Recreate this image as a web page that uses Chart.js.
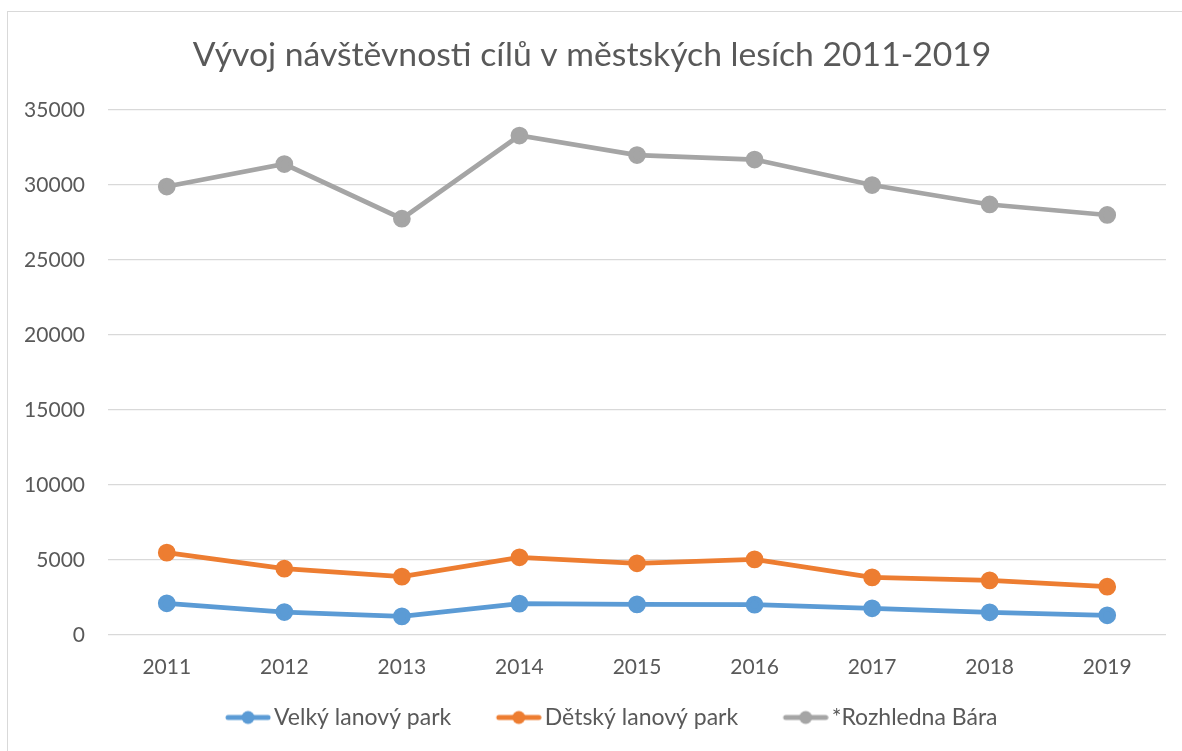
<!DOCTYPE html>
<html lang="cs">
<head>
    <meta charset="UTF-8">
    <title>Vývoj návštěvnosti cílů v městských lesích 2011-2019</title>
    <script src="https://cdn.jsdelivr.net/npm/chart.js"></script>
    <style>
        body {
            margin: 0;
            padding: 0;
            background: white;
            overflow: hidden;
        }

        .frame {
            position: absolute;
            left: 7px;
            top: 11px;
            width: 1300px;
            height: 900px;
            border: 1px solid #d9d9d9;
        }

        .chart-container {
            position: absolute;
            left: 0;
            top: 0;
            width: 1182px;
            height: 751px;
        }
    </style>
</head>
<body>

    <div class="frame"></div>
    <div class="chart-container">
        <canvas id="visitChart"></canvas>
    </div>

    <script>
        const years = ['2011', '2012', '2013', '2014', '2015', '2016', '2017', '2018', '2019'];
        const seriesNames = ['Velký lanový park', 'Dětský lanový park', '*Rozhledna Bára'];

        const velkyPark = [2100, 1520, 1230, 2080, 2030, 2010, 1770, 1500, 1300];
        const detskyPark = [5480, 4410, 3880, 5170, 4770, 5030, 3830, 3630, 3210];
        const rozhledna = [29900, 31400, 27750, 33300, 32000, 31700, 30000, 28700, 28000];

        const colors = ['#5b9bd5', '#ed7d31', '#a5a5a5'];
        const textColor = '#595959';
        const fontFamily = 'Lato, "Open Sans", sans-serif';

        // legend marker: line + dot, drawn on the right part of a wider transparent image
        // so the gap to the text is small like in Excel
        function legendMarker(color) {
            const c = document.createElement('canvas');
            c.width = 93;
            c.height = 16;
            const g = c.getContext('2d');
            const x0 = c.width - 46;
            g.strokeStyle = color;
            g.lineWidth = 5;
            g.lineCap = 'round';
            g.beginPath();
            g.moveTo(x0 + 3, 8);
            g.lineTo(c.width - 3, 8);
            g.stroke();
            g.fillStyle = color;
            g.beginPath();
            g.arc(x0 + 23, 8, 6.5, 0, Math.PI * 2);
            g.fill();
            return c;
        }

        const allSeries = [velkyPark, detskyPark, rozhledna];
        const datasets = allSeries.map((values, i) => ({
            label: seriesNames[i],
            data: values,
            borderColor: colors[i],
            backgroundColor: colors[i],
            pointBackgroundColor: colors[i],
            pointBorderColor: colors[i],
            borderWidth: 4.75,
            pointRadius: 6.5,
            pointHoverRadius: 6.5,
            tension: 0
        }));

        new Chart(document.getElementById('visitChart'), {
            type: 'line',
            data: { labels: years, datasets: datasets },
            options: {
                responsive: true,
                maintainAspectRatio: false,
                animation: false,
                layout: { padding: { top: 28, right: 16, bottom: 12, left: 18 } },
                scales: {
                    x: {
                        offset: true,
                        grid: { display: false, drawTicks: false },
                        border: { display: false },
                        ticks: { color: textColor, padding: 20, font: { family: fontFamily, size: 21 } }
                    },
                    y: {
                        min: 0,
                        max: 35000,
                        grid: { color: '#d9d9d9', lineWidth: 1.2, drawTicks: false },
                        border: { display: false },
                        ticks: {
                            stepSize: 5000,
                            color: textColor,
                            padding: 23,
                            font: { family: fontFamily, size: 21 },
                            callback: (value) => String(value)
                        },
                        afterFit: (scale) => { scale.width = 90; }
                    }
                },
                plugins: {
                    title: {
                        display: true,
                        text: 'Vývoj návštěvnosti cílů v městských lesích 2011-2019',
                        color: textColor,
                        font: { family: fontFamily, size: 33.7, weight: 'normal' },
                        padding: { top: 7, bottom: 34.6 }
                    },
                    legend: {
                        position: 'bottom',
                        labels: {
                            color: textColor,
                            font: { family: fontFamily, size: 23 },
                            usePointStyle: true,
                            pointStyleWidth: 76,
                            padding: 6,
                            generateLabels: (chart) => {
                                const items = Chart.defaults.plugins.legend.labels.generateLabels(chart);
                                items.forEach((item, i) => { item.pointStyle = legendMarker(colors[i]); });
                                return items;
                            }
                        }
                    },
                    tooltip: { enabled: false }
                }
            }
        });
    </script>

</body>
</html>
